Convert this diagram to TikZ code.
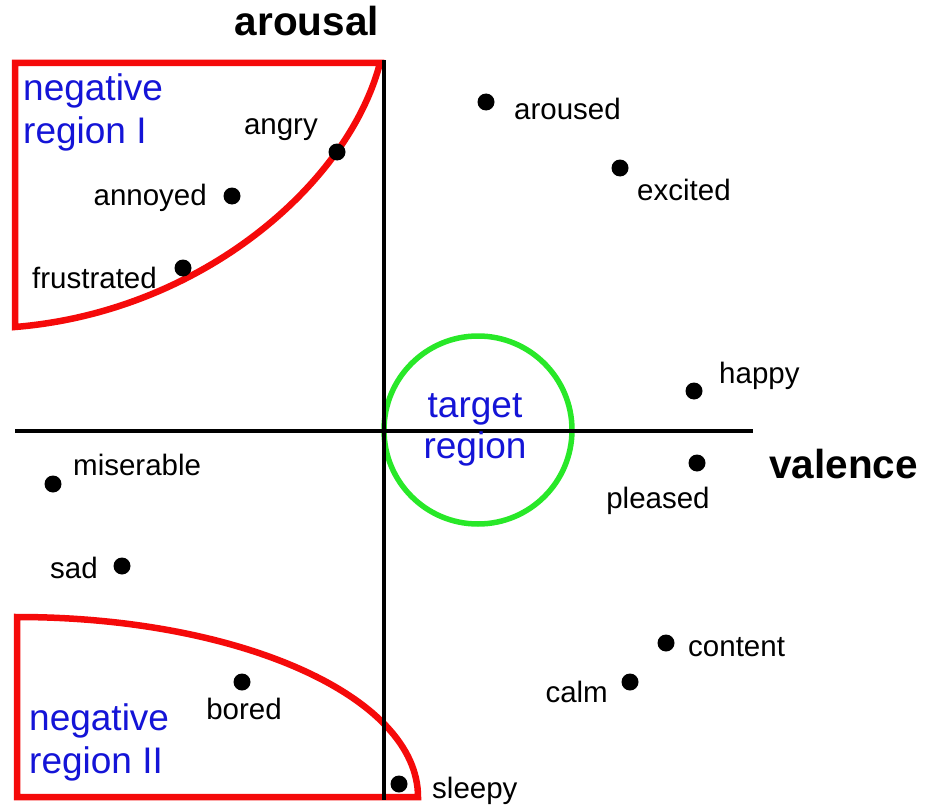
\documentclass[tikz,border=0pt]{standalone}
\usepackage{fontspec}
\setmainfont{Liberation Sans}
\definecolor{regred}{RGB}{245,10,10}
\definecolor{regblue}{RGB}{20,20,215}
\definecolor{reggreen}{RGB}{40,232,40}
\tikzset{
  dot/.style={circle,fill=black,minimum size=17pt,inner sep=0pt},
  lbl/.style={inner sep=0pt,font=\fontsize{29.5}{35}\selectfont},
  axlbl/.style={inner sep=0pt,font=\fontsize{40.5}{48}\selectfont\bfseries},
  reglbl/.style={inner sep=0pt,text=regblue,font=\fontsize{37}{42}\selectfont},
  axisline/.style={line width=4.3pt},
  redregion/.style={draw=regred,line width=6.5pt,line join=miter},
  greenregion/.style={draw=reggreen,line width=5.5pt},
}
\begin{document}
\begin{tikzpicture}[x=1pt,y=-1pt]
\useasboundingbox[fill=white] (0,0) rectangle (935,808);

% negative regions
\draw[redregion] (380,63) -- (15,63) -- (15,327)
   .. controls (200,312) and (348,185) .. (380,63) -- cycle;
\draw[redregion] (17,617) -- (17,797) -- (418,797)
   .. controls (418,696) and (238,617) .. (17,617) -- cycle;

% target region
\node[greenregion,circle,minimum size=188pt,inner sep=0pt] (target) at (478,430) {};

% axes
\coordinate (vtop) at (384,60);
\coordinate (vbot) at (384,800);
\coordinate (hleft) at (15,431);
\coordinate (hright) at (753,431);
\draw[axisline] (vtop) -- (vbot);
\draw[axisline] (hleft) -- (hright);

% axis labels
\node[axlbl,anchor=base] (arousal) at (307,36) {arousal};
\node[axlbl,anchor=base west] (valence) at (769,478) {valence};

% region labels
\node[reglbl,anchor=base west] (negIa) at (23,100) {negative};
\node[reglbl,anchor=base west] (negIb) at (23,143) {region I};
\node[reglbl,anchor=base west] (negIIa) at (29,730) {negative};
\node[reglbl,anchor=base west] (negIIb) at (29,773) {region II};
\node[reglbl,anchor=base] (tga) at (475,417) {target};
\node[reglbl,anchor=base] (tgb) at (475,458) {region};

% emotion dots
\node[dot] (d-aroused) at (486,102) {};
\node[dot] (d-excited) at (620,168) {};
\node[dot] (d-happy) at (694,391) {};
\node[dot] (d-pleased) at (697,463) {};
\node[dot] (d-content) at (666,643) {};
\node[dot] (d-calm) at (630,682) {};
\node[dot] (d-sleepy) at (399,784) {};
\node[dot] (d-bored) at (242,682) {};
\node[dot] (d-sad) at (122,566) {};
\node[dot] (d-miserable) at (53,484) {};
\node[dot] (d-frustrated) at (183,268) {};
\node[dot] (d-annoyed) at (232,196) {};
\node[dot] (d-angry) at (337,152) {};

% emotion labels
\node[lbl,anchor=base west] (l-aroused) at (514,119) {aroused};
\node[lbl,anchor=base west] (l-excited) at (637,200) {excited};
\node[lbl,anchor=base west] (l-happy) at (719,383) {happy};
\node[lbl,anchor=base] (l-pleased) at (658,508) {pleased};
\node[lbl,anchor=base west] (l-content) at (688,656) {content};
\node[lbl,anchor=base east] (l-calm) at (608,702) {calm};
\node[lbl,anchor=base west] (l-sleepy) at (432,798) {sleepy};
\node[lbl,anchor=base] (l-bored) at (244,719) {bored};
\node[lbl,anchor=base east] (l-sad) at (98,578) {sad};
\node[lbl,anchor=base west] (l-miserable) at (73,475) {miserable};
\node[lbl,anchor=base east] (l-frustrated) at (157,288) {frustrated};
\node[lbl,anchor=base east] (l-annoyed) at (207,205) {annoyed};
\node[lbl,anchor=base east] (l-angry) at (318,135) {angry};
\end{tikzpicture}
\end{document}
